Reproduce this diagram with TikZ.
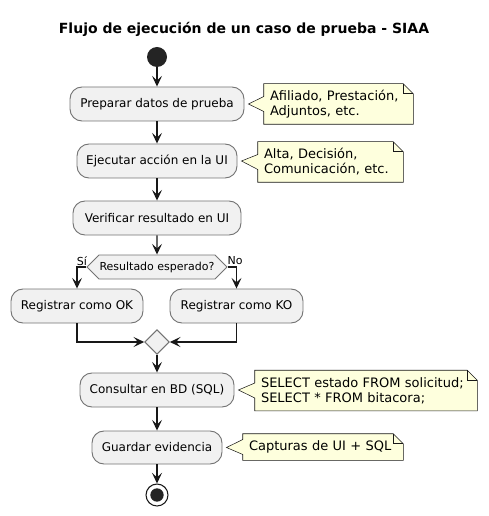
\documentclass[tikz,border=0pt]{standalone}
\usepackage{fontspec}
\setmainfont{DejaVu Sans}
\usetikzlibrary{arrows.meta,shapes.geometric,shapes.symbols,backgrounds}
\definecolor{fondoact}{HTML}{F1F1F1}
\definecolor{fondonota}{HTML}{FEFFDD}
\definecolor{trazo}{HTML}{181818}
\tikzstyle{actividad}=[draw=black!55,line width=0.7pt,fill=fondoact,rounded corners=9pt,inner sep=0pt,minimum height=25.5pt,font=\fontsize{9}{11}\selectfont]
\tikzstyle{nota}=[inner xsep=4.5pt,inner ysep=0pt,minimum height=30pt,align=left,font=\fontsize{9.75}{11.25}\selectfont]
\tikzstyle{notaborde}=[draw=trazo,line width=0.4pt,fill=fondonota]
\tikzstyle{flecha}=[draw=trazo,line width=0.95pt,-{Stealth[length=8pt,width=7.5pt,inset=3.4pt]}]
\tikzstyle{etiqueta}=[inner sep=0pt,font=\fontsize{8.25}{10}\selectfont]

\begin{document}
\begin{tikzpicture}[x=0.75pt,y=-0.75pt]
    \useasboundingbox (0,0) rectangle (488,516);
    \node [font=\bfseries\fontsize{10.5}{12}\selectfont] (titulo) at (244,29) {Flujo de ejecución de un caso de prueba - SIAA};
    \node [circle,fill=trazo!95!white,inner sep=0pt,minimum size=15pt] (inicio) at (157,57) {};
    \node [actividad,minimum width=130.5pt] (preparar) at (157,104) {Preparar datos de prueba};
    \node [actividad,minimum width=120pt] (ejecutar) at (157,161) {Ejecutar acción en la UI};
    \node [actividad,minimum width=126pt] (verificar) at (157,218) {Verificar resultado en UI};
    \node [signal,signal to=west and east,signal pointer angle=90,draw=black!55,line width=0.7pt,fill=fondoact,inner sep=0pt,minimum width=105pt,minimum height=18pt,font=\fontsize{8.25}{10}\selectfont] (resultado) at (157,267) {Resultado esperado?};
    \node [actividad,minimum width=99pt] (regok) at (77,306) {Registrar como OK};
    \node [actividad,minimum width=99.75pt] (regko) at (236.5,306) {Registrar como KO};
    \node [diamond,draw=black!55,line width=0.7pt,fill=fondoact,inner sep=0pt,minimum size=18.5pt] (junta) at (157,342) {};
    \node [actividad,minimum width=115.5pt] (consultar) at (157,390) {Consultar en BD (SQL)};
    \node [actividad,minimum width=97.5pt,minimum height=24.75pt] (guardar) at (157,447.5) {Guardar evidencia};
    \node [circle,draw=trazo,line width=0.8pt,inner sep=0pt,minimum size=16.5pt] (fin) at (157,495) {};
    \node [circle,fill=trazo!95!white,inner sep=0pt,minimum size=10pt] (findot) at (fin) {};

    \node [nota,text width=102.75pt] (n1) at (338.5,104) {Afiliado, Prestación,\\Adjuntos, etc.};
    \node [nota,text width=99.75pt] (n2) at (330.5,162) {Alta, Decisión,\\Comunicación, etc.};
    \node [nota,text width=157.5pt] (n3) at (366,390.5) {SELECT estado FROM solicitud;\\SELECT * FROM bitacora;};
    \node [nota,text width=111pt,minimum height=19.5pt] (n4) at (323,447) {Capturas de UI + SQL};

    \begin{scope}[on background layer]
        \foreach \n/\b in {n1/preparar,n2/ejecutar,n3/consultar,n4/guardar} {
            \draw [notaborde] (\n.north west) -- ([xshift=-7.5pt]\n.north east) -- ([yshift=-7.5pt]\n.north east)
                -- (\n.south east) -- (\n.south west) -- ([yshift=-5.6pt]\n.west) -- ([xshift=3pt]\b.east)
                -- ([yshift=5.6pt]\n.west) -- cycle;
            \draw [notaborde,fill=none] ([xshift=-7.5pt]\n.north east) -- ([xshift=-7.5pt,yshift=-7.5pt]\n.north east) -- ([yshift=-7.5pt]\n.north east);
        }
    \end{scope}

    \draw [flecha] (inicio) -- (preparar);
    \draw [flecha] (preparar) -- (ejecutar);
    \draw [flecha] (ejecutar) -- (verificar);
    \draw [flecha] (verificar) -- (resultado);
    \draw [flecha] (resultado.west) -| (regok.north);
    \draw [flecha] (resultado.east) -| (regko.north);
    \draw [flecha] (regok.south) |- (junta.west);
    \draw [flecha] (regko.south) |- (junta.east);
    \draw [flecha] (junta) -- (consultar);
    \draw [flecha] (consultar) -- (guardar);
    \draw [flecha] (guardar) -- (fin);
    \node [etiqueta] (si) at (82,261) {Sí};
    \node [etiqueta] (no) at (235,261) {No};
\end{tikzpicture}
\end{document}
